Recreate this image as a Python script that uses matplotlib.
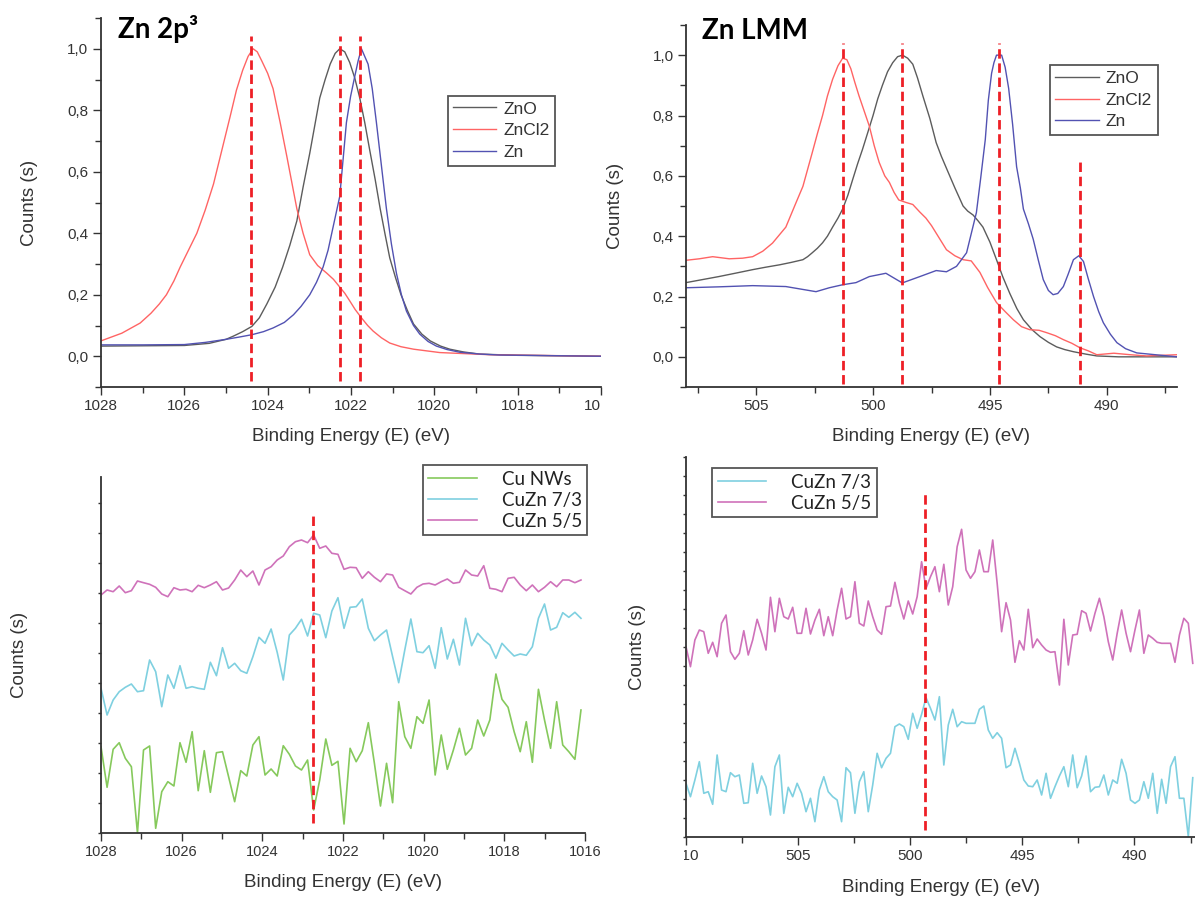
import numpy as np
import matplotlib
matplotlib.use("Agg")
import matplotlib.pyplot as plt
from matplotlib.ticker import MultipleLocator, FuncFormatter
from matplotlib.transforms import Bbox, TransformedBbox

W, H = 1195, 898
INK = "#333333"
C_ZNO, C_ZNCL2, C_ZN = "#5c5c5c", "#ff6464", "#5252b2"
C_CU, C_73, C_55 = "#86c95c", "#7fd0e0", "#cf72ba"
DASH = "#ee1f26"
CAL = ["Lato", "DejaVu Sans"]
plt.rcParams["font.family"] = ["Liberation Sans", "DejaVu Sans"]

# ---- Zn 2p3 reference spectra (normalised) ----
p2_zno_e = [1028, 1027, 1026, 1025.4, 1025.0, 1024.83, 1024.6, 1024.38, 1024.2, 1024.02, 1023.82,
            1023.64, 1023.47, 1023.3, 1023.15, 1022.99, 1022.87, 1022.75, 1022.62, 1022.5,
            1022.38, 1022.27, 1022.15, 1022.03, 1021.91, 1021.79, 1021.67, 1021.55, 1021.42,
            1021.3, 1021.18, 1021.07, 1020.93, 1020.8, 1020.65, 1020.5, 1020.3, 1020.1,
            1019.85, 1019.63, 1019.3, 1018.91, 1018, 1016]
p2_zno_i = [0.033, 0.034, 0.035, 0.042, 0.055, 0.065, 0.08, 0.097, 0.125, 0.17, 0.225,
            0.29, 0.36, 0.44, 0.55, 0.66, 0.75, 0.84, 0.90, 0.95,
            0.985, 1.0, 0.99, 0.955, 0.905, 0.84, 0.76, 0.67, 0.575,
            0.48, 0.395, 0.32, 0.255, 0.20, 0.15, 0.105, 0.072, 0.05,
            0.033, 0.023, 0.014, 0.007, 0.003, 0.0]
p2_zncl2_e = [1028, 1027.5, 1027.06, 1026.8, 1026.6, 1026.43, 1026.25, 1026.1, 1025.9, 1025.7,
              1025.5, 1025.3, 1025.1, 1024.9, 1024.75, 1024.6, 1024.47, 1024.35, 1024.25,
              1024.14, 1024.0, 1023.87, 1023.7, 1023.54, 1023.42, 1023.3, 1023.15, 1022.99,
              1022.8, 1022.58, 1022.42, 1022.27, 1022.15, 1022.03, 1021.9, 1021.75, 1021.6,
              1021.47, 1021.27, 1021.07, 1020.8, 1020.5, 1019.87, 1018.67, 1016]
p2_zncl2_i = [0.05, 0.075, 0.108, 0.14, 0.17, 0.20, 0.245, 0.29, 0.345, 0.40,
              0.475, 0.56, 0.67, 0.78, 0.865, 0.93, 0.975, 1.0, 0.99,
              0.96, 0.92, 0.87, 0.76, 0.65, 0.565, 0.48, 0.40, 0.33,
              0.295, 0.27, 0.25, 0.225, 0.205, 0.18, 0.152, 0.125, 0.10,
              0.082, 0.06, 0.043, 0.031, 0.023, 0.012, 0.005, 0.0]
p2_zn_e = [1028, 1027, 1026, 1025.5, 1025, 1024.7, 1024.38, 1024.1, 1023.87, 1023.6, 1023.38,
           1023.2, 1022.99, 1022.83, 1022.67, 1022.55, 1022.43, 1022.35, 1022.27, 1022.19,
           1022.11, 1022.01, 1021.91, 1021.83, 1021.75, 1021.67, 1021.59, 1021.49, 1021.39,
           1021.27, 1021.15, 1021.03, 1020.91, 1020.79, 1020.67, 1020.5, 1020.35, 1020.15,
           1019.95, 1019.7, 1019.39, 1018.9, 1018.43, 1016]
p2_zn_i = [0.037, 0.037, 0.038, 0.045, 0.055, 0.062, 0.07, 0.08, 0.092, 0.11, 0.135,
           0.162, 0.20, 0.24, 0.29, 0.345, 0.42, 0.47, 0.52, 0.64,
           0.76, 0.845, 0.91, 0.96, 1.0, 0.975, 0.95, 0.87, 0.76,
           0.62, 0.48, 0.365, 0.27, 0.20, 0.147, 0.10, 0.072, 0.048,
           0.033, 0.022, 0.013, 0.007, 0.004, 0.0]
p2_peaks = [1024.39, 1022.27, 1021.78]

# ---- Zn LMM reference spectra (normalised) ----
lmm_zno_e = [508, 507.3, 506.6, 505.9, 505.15, 504.6, 504.0, 503.5, 503.0, 502.8, 502.6, 502.38,
             502.16, 501.95, 501.73, 501.5, 501.3, 501.08, 500.87, 500.66, 500.45, 500.22,
             500.0, 499.8, 499.6, 499.38, 499.16, 498.95, 498.74, 498.52, 498.3, 498.1,
             497.87, 497.57, 497.3, 497.08, 496.86, 496.5, 496.15, 495.95, 495.72, 495.5,
             495.3, 495.0, 494.72, 494.45, 494.15, 493.85, 493.57, 493.2, 492.86, 492.5,
             492.15, 491.8, 491.43, 490.9, 490.43, 489.5, 487]
lmm_zno_i = [0.246, 0.256, 0.266, 0.277, 0.289, 0.297, 0.305, 0.313, 0.322, 0.332, 0.345, 0.36,
             0.378, 0.40, 0.43, 0.46, 0.49, 0.535, 0.588, 0.64, 0.688, 0.745,
             0.80, 0.855, 0.90, 0.945, 0.975, 0.995, 1.0, 0.99, 0.97, 0.925,
             0.865, 0.79, 0.71, 0.665, 0.625, 0.56, 0.50, 0.483, 0.47, 0.45,
             0.43, 0.38, 0.322, 0.265, 0.21, 0.16, 0.123, 0.09, 0.067, 0.048,
             0.033, 0.024, 0.017, 0.009, 0.003, 0.0, 0.0]
lmm_zncl2_e = [508, 507.43, 506.86, 506.15, 505.58, 505.15, 504.72, 504.3, 503.73, 503.3, 503.0,
               502.6, 502.38, 502.16, 501.95, 501.73, 501.5, 501.3, 501.12, 500.95, 500.78,
               500.6, 500.38, 500.16, 499.95, 499.74, 499.5, 499.3, 499.1, 498.9, 498.6,
               498.3, 498.0, 497.74, 497.5, 497.3, 496.86, 496.5, 496.15, 495.8, 495.43,
               495.1, 494.72, 494.35, 494.0, 493.65, 493.3, 492.9, 492.57, 492.2, 491.86,
               491.5, 491.15, 490.8, 490.43, 489.7, 489.0, 488.3, 487.0]
lmm_zncl2_i = [0.32, 0.325, 0.332, 0.325, 0.327, 0.332, 0.35, 0.377, 0.43, 0.51, 0.565,
               0.677, 0.74, 0.80, 0.865, 0.92, 0.965, 0.99, 0.985, 0.955, 0.91,
               0.865, 0.815, 0.765, 0.70, 0.645, 0.60, 0.578, 0.545, 0.52, 0.512,
               0.505, 0.48, 0.46, 0.435, 0.41, 0.355, 0.335, 0.322, 0.318, 0.28,
               0.23, 0.18, 0.15, 0.123, 0.10, 0.09, 0.088, 0.08, 0.07, 0.057,
               0.045, 0.03, 0.02, 0.007, 0.012, 0.007, 0.003, 0.007]
lmm_zn_e = [508, 506.6, 505.15, 503.73, 502.44, 501.87, 501.3, 500.73, 500.16, 499.45, 498.75,
            498.0, 497.3, 496.86, 496.43, 496.0, 495.58, 495.4, 495.2, 495.07, 494.93, 494.83,
            494.72, 494.6, 494.5, 494.35, 494.2, 494.03, 493.86, 493.7, 493.57, 493.35, 493.15,
            492.93, 492.72, 492.5, 492.3, 492.1, 491.86, 491.65, 491.43, 491.2, 491.0, 490.8,
            490.57, 490.35, 490.15, 489.85, 489.57, 489.2, 488.72, 487.0]
lmm_zn_i = [0.229, 0.232, 0.236, 0.233, 0.216, 0.229, 0.239, 0.246, 0.266, 0.277, 0.245,
            0.266, 0.286, 0.282, 0.30, 0.345, 0.478, 0.59, 0.72, 0.85, 0.94, 0.975,
            1.0, 1.0, 1.0, 0.96, 0.89, 0.77, 0.63, 0.56, 0.49, 0.44, 0.39,
            0.32, 0.256, 0.22, 0.206, 0.21, 0.233, 0.275, 0.322, 0.335, 0.316, 0.26,
            0.20, 0.15, 0.113, 0.075, 0.047, 0.027, 0.013, 0.0]
lmm_peaks = [501.28, 498.77, 494.62, 491.17]
lmm_peak_tops = [1.04, 1.04, 1.04, 0.66]

# ---- Zn 2p3 of the nanowire samples (arb. units) ----
nw_e_start, nw_e_end = 1028, 1016.1
cu_nws = [8.63, 4.57, 8.37, 9.03, 7.47, 6.63, 0.0, 8.3, 8.7, 0.47, 4.13, 5.13, 4.7, 9.03,
          7.07, 10.13, 4.23, 8.23, 4.07, 8.03, 8.13, 5.63, 3.13, 6.23, 5.7, 8.8, 9.63, 5.8,
          6.4, 5.7, 8.73, 7.87, 6.7, 6.3, 7.3, 2.3, 5.3, 9.4, 6.77, 7.17,
          0.9, 8.47, 7.13, 8.23, 11.03, 6.97, 2.7, 6.97, 3.03, 13.13, 9.63, 8.47, 11.63,
          10.97, 13.3, 5.8, 9.8, 6.37, 8.3, 10.47, 7.8, 8.47, 11.3, 9.7, 11.3, 15.9, 13.37,
          12.57, 10.13, 8.13, 11.13, 7.07, 14.37, 11.3, 8.47, 13.13, 8.8, 8.13, 7.37, 12.3]
cuzn73_2p = [14.47, 11.8, 13.3, 14.13, 14.57, 14.9, 14.13, 14.23, 17.3, 16.13, 12.63, 15.8,
             14.47, 16.73, 14.47, 14.63, 14.47, 14.37, 17.07, 15.73, 18.53, 16.47, 16.97,
             16.23, 15.97, 17.63, 19.57, 18.97, 20.4, 18.07, 15.3, 19.8, 20.47, 21.37, 19.7,
             21.97, 21.8, 19.53, 22.2, 23.53, 20.47,
             22.57, 22.63, 23.4, 20.47, 19.23, 19.8, 20.3, 17.63, 15.03, 18.3, 21.4, 18.13,
             18.03, 18.73, 16.47, 20.53, 17.4, 19.37, 16.8, 21.47, 18.73, 19.97, 19.3, 18.8,
             17.47, 18.97, 18.3, 17.7, 17.9, 17.77, 18.63, 21.47, 22.9, 20.3, 20.57, 22.03,
             21.57, 22.07, 21.47]
cuzn55_2p = [23.8, 24.3, 24.13, 24.7, 24.03, 24.23, 25.2, 25.03, 24.87, 24.57, 23.9, 23.63,
             24.53, 24.3, 24.37, 24.13, 24.77, 24.53, 24.8, 25.13, 24.3, 24.5, 25.3, 26.3,
             25.63, 26.2, 24.8, 26.3, 26.63, 27.3, 27.7, 28.63, 29.13, 29.3, 29.03, 29.8,
             28.47, 28.7, 27.97, 27.87, 26.37,
             26.57, 26.53, 25.47, 26.13, 25.57, 25.13, 25.9, 25.8, 24.57, 24.23, 23.9, 24.57,
             24.9, 24.97, 24.8, 25.13, 25.4, 24.97, 25.07, 26.3, 25.8, 25.7, 26.73, 24.47,
             24.37, 24.13, 25.47, 25.57, 24.8, 24.23, 24.8, 24.13, 24.57, 25.13, 24.63, 25.3,
             25.3, 25.03, 25.3]
nw_2p_peak = 1022.75

# ---- Zn LMM of the nanowire samples (arb. units) ----
lm_e_start, lm_e_end = 510, 487.4
cuzn73_lmm = [5.37, 4.03, 5.7, 7.53, 4.37, 4.53, 3.27, 8.2, 4.7, 4.53, 6.43, 6.03, 6.2, 3.37,
              3.43, 7.37, 4.37, 6.1, 5.03, 2.2, 7.03, 8.2, 2.37, 4.97, 4.03, 5.37, 4.37, 2.53,
              3.87, 1.53, 4.7, 6.03, 4.53, 4.03, 3.7, 1.53, 6.93, 6.43, 2.37, 5.53, 6.53, 2.53,
              5.2, 8.37, 6.93, 7.87, 8.37, 11.03, 11.3, 11.03, 9.77, 12.37, 10.87, 12.27,
              13.93, 12.87, 11.7, 14.03,
              7.2, 11.2, 12.77, 11.03, 11.53, 11.37, 11.37, 11.37, 12.77, 13.1, 10.7, 9.87,
              10.43, 9.87, 6.93, 7.2, 8.87, 7.37, 5.7, 5.1, 5.03, 5.7, 4.2, 6.37, 3.87, 5.03,
              6.1, 7.03, 5.03, 8.2, 4.93, 6.1, 8.1, 4.53, 4.97, 5.03, 6.2, 4.2, 5.7, 5.37,
              7.77, 6.37, 3.7, 3.37, 3.7, 5.53, 3.87, 6.37, 2.37, 5.77, 3.37, 7.03, 8.03,
              3.87, 3.87, 0.03, 5.93]
cuzn55_lmm = [19.03, 17.03, 19.7, 20.7, 20.53, 18.37, 19.47, 18.03, 21.37, 22.2, 18.53, 17.77,
              18.37, 20.63, 18.2, 19.7, 21.77, 20.37, 18.7, 23.97, 20.53, 23.87, 22.03, 21.8,
              22.97, 20.37, 20.37, 22.87, 20.3, 21.7, 22.77, 20.13, 22.03, 20.13, 22.7, 24.87,
              21.8, 22.03, 25.53, 21.37, 21.1, 23.6, 22.03, 20.7, 20.27, 23.03, 23.1, 25.47,
              23.37, 21.8, 23.6, 22.3, 24.03, 27.53, 24.87, 26.03, 27.03, 24.53,
              27.27, 23.2, 25.03, 29.03, 30.77, 26.7, 25.87, 26.53, 28.7, 26.53, 26.53, 29.7,
              25.37, 20.53, 23.43, 21.7, 17.47, 19.63, 18.7, 22.77, 18.93, 19.8, 19.2, 18.7,
              18.47, 18.53, 15.2, 21.77, 17.2, 20.2, 20.27, 22.63, 22.37, 20.6, 22.37, 23.87,
              22.03, 19.53, 17.7, 20.37, 22.7, 20.37, 18.53, 20.7, 22.7, 18.37, 20.2, 19.87,
              19.47, 19.37, 19.37, 19.37, 17.47, 20.2, 21.87, 21.37, 17.37]
nw_lmm_peak = 499.35


def box(l, t, r, b):  # pixel box -> figure fraction
    return [l / W, 1 - b / H, (r - l) / W, (b - t) / H]


def comma(v, _):
    return f"{abs(v) if abs(v) < 1e-9 else v:.1f}".replace(".", ",")


def style(ax, xlab_y, ylab_x):
    for sp in ("top", "right"):
        ax.spines[sp].set_visible(False)
    for sp in ("left", "bottom"):
        ax.spines[sp].set_color(INK); ax.spines[sp].set_linewidth(1.3)
    ax.tick_params(which="both", direction="out", color=INK, labelcolor=INK, width=1.0)
    ax.tick_params(which="major", length=6, labelsize=11, pad=3)
    ax.tick_params(which="minor", length=4)
    ax.set_xlabel("Binding Energy (E) (eV)", fontsize=13.5, color=INK)
    ax.set_ylabel("Counts (s)", fontsize=13.5, color=INK)
    ax.xaxis.set_label_coords(0.5, xlab_y); ax.xaxis.label.set_va("center")
    ax.yaxis.set_label_coords(ylab_x, 0.5); ax.yaxis.label.set_va("center")


def dashed(ax, xs, lo, tops):
    for x, t in zip(xs, tops):
        ax.plot([x, x], [lo, t], color=DASH, lw=2.0, ls=(0, (3.4, 1.7)), zorder=4)


fig = plt.figure(figsize=(W / 100, H / 100), dpi=100)

# top left: Zn 2p3
a1 = fig.add_axes(box(101, 18, 601, 387))
a1.plot(p2_zno_e, p2_zno_i, color=C_ZNO, lw=1.0, label="ZnO")
a1.plot(p2_zncl2_e, p2_zncl2_i, color=C_ZNCL2, lw=1.0, label="ZnCl2")
a1.plot(p2_zn_e, p2_zn_i, color=C_ZN, lw=1.0, label="Zn")
dashed(a1, p2_peaks, -0.08, [1.04] * 3)
a1.set_xlim(1028, 1016); a1.set_ylim(-0.1, 1.1)
a1.xaxis.set_major_locator(MultipleLocator(2)); a1.xaxis.set_minor_locator(MultipleLocator(1))
a1.yaxis.set_major_locator(MultipleLocator(0.2)); a1.yaxis.set_minor_locator(MultipleLocator(0.1))
a1.yaxis.set_major_formatter(FuncFormatter(comma))
style(a1, -0.1355, -0.142)

# top right: Zn LMM
a2 = fig.add_axes(box(686, 25, 1177, 387))
a2.plot(lmm_zno_e, lmm_zno_i, color=C_ZNO, lw=1.0, label="ZnO")
a2.plot(lmm_zncl2_e, lmm_zncl2_i, color=C_ZNCL2, lw=1.0, label="ZnCl2")
a2.plot(lmm_zn_e, lmm_zn_i, color=C_ZN, lw=1.0, label="Zn")
dashed(a2, lmm_peaks, -0.09, lmm_peak_tops)
a2.set_xlim(508, 487); a2.set_ylim(-0.1, 1.1)
a2.xaxis.set_major_locator(MultipleLocator(5)); a2.xaxis.set_minor_locator(MultipleLocator(2.5))
a2.yaxis.set_major_locator(MultipleLocator(0.2)); a2.yaxis.set_minor_locator(MultipleLocator(0.1))
a2.yaxis.set_major_formatter(FuncFormatter(comma))
style(a2, -0.138, -0.143)

for ax, anchor in [(a1, (0.693, 0.789)), (a2, (0.741, 0.889))]:
    lg = ax.legend(loc="upper left", bbox_to_anchor=anchor, borderaxespad=0, fancybox=False,
                   edgecolor="#555555", framealpha=1, fontsize=12.5, handlelength=2.5,
                   handletextpad=0.4, labelspacing=0.38, borderpad=0.32)
    lg.get_frame().set_linewidth(1.3)
    for t in lg.get_texts():
        t.set_color(INK)

# bottom left: Zn 2p3 of nanowires
a3 = fig.add_axes(box(101, 477, 585, 833))
e3 = np.linspace(nw_e_start, nw_e_end, len(cu_nws))
a3.plot(e3, cu_nws, color=C_CU, lw=1.2, label="Cu NWs")
a3.plot(e3, cuzn73_2p, color=C_73, lw=1.2, label="CuZn 7/3")
a3.plot(e3, cuzn55_2p, color=C_55, lw=1.2, label="CuZn 5/5")
dashed(a3, [nw_2p_peak], 1.0, [31.8])
a3.set_xlim(1028, 1016); a3.set_ylim(0, 35.6)
a3.xaxis.set_major_locator(MultipleLocator(2)); a3.xaxis.set_minor_locator(MultipleLocator(1))
a3.yaxis.set_major_locator(MultipleLocator(3))
style(a3, -0.140, -0.169)
a3.tick_params(axis="x", labelsize=10.5)
a3.tick_params(axis="y", which="major", length=2.5, labelleft=False)

# bottom right: Zn LMM of nanowires
a4 = fig.add_axes(box(686, 457, 1195, 837))
e4 = np.linspace(lm_e_start, lm_e_end, len(cuzn73_lmm))
a4.plot(e4, cuzn73_lmm, color=C_73, lw=1.2, label="CuZn 7/3")
a4.plot(e4, cuzn55_lmm, color=C_55, lw=1.2, label="CuZn 5/5")
dashed(a4, [nw_lmm_peak], 0.7, [34.7])
a4.set_xlim(510, 487.3); a4.set_ylim(0, 38)
a4.xaxis.set_major_locator(MultipleLocator(5)); a4.xaxis.set_minor_locator(MultipleLocator(2.5))
a4.yaxis.set_major_locator(MultipleLocator(1.9))
style(a4, -0.132, -0.096)
a4.tick_params(axis="y", which="major", length=2.5, labelleft=False)

for ax, anchor in [(a3, (0.665, 1.034)), (a4, (0.051, 0.971))]:
    lg = ax.legend(loc="upper left", bbox_to_anchor=anchor, borderaxespad=0, fancybox=False,
                   edgecolor="#555555", framealpha=1, prop={"family": CAL, "size": 13.5},
                   handlelength=2.6, handletextpad=1.3, labelspacing=0.22, borderpad=0.3)
    lg.get_frame().set_linewidth(1.3)
    for t in lg.get_texts():
        t.set_color("#222222")

# panel titles
fig.text(118 / W, 1 - 38 / H, "Zn 2p³", family=CAL, weight="bold", fontsize=20, va="baseline")
fig.text(702 / W, 1 - 39 / H, "Zn LMM", family=CAL, weight="bold", fontsize=20, va="baseline")

# the panels were cropped from wider plots: cut tick labels at the crop edges
fig.canvas.draw()
left_half = TransformedBbox(Bbox.from_extents(0, 0, 600 / W, 1), fig.transFigure)
right_half = TransformedBbox(Bbox.from_extents(684 / W, 0, 1, 1), fig.transFigure)
for ax, clip in [(a1, left_half), (a3, left_half), (a4, right_half)]:
    for lbl in ax.get_xticklabels():
        lbl.set_clip_box(clip); lbl.set_clip_on(True)

fig.savefig("out.png", dpi=100, facecolor="white")
